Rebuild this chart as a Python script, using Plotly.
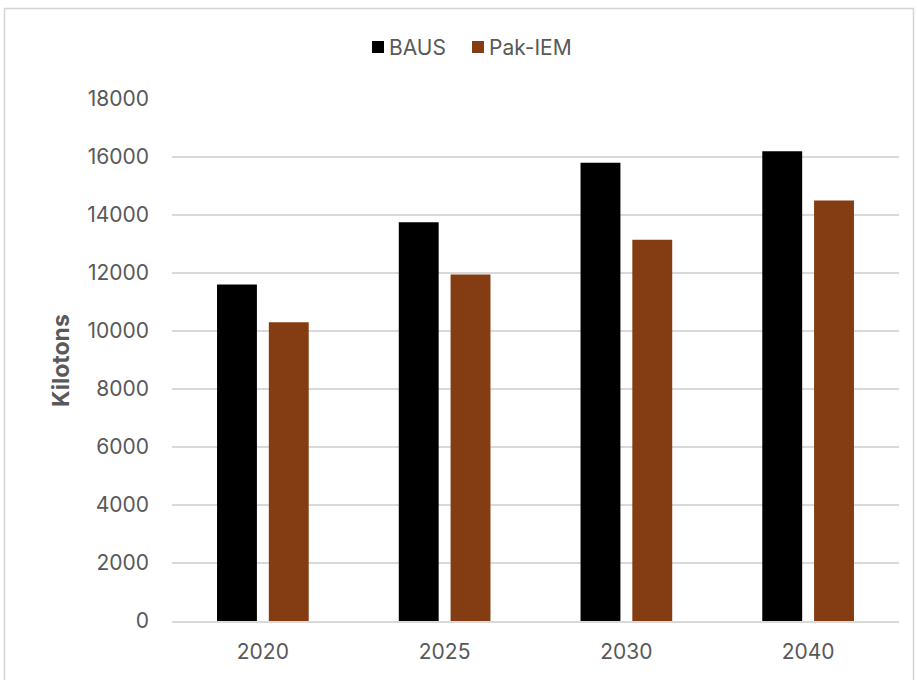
import plotly.graph_objects as go

# Emissions by year for each scenario (kilotons)
years = ["2020", "2025", "2030", "2040"]
baus = [11600, 13750, 15800, 16200]
pak_iem = [10300, 11950, 13150, 14500]
y_ticks = [0, 2000, 4000, 6000, 8000, 10000, 12000, 14000, 16000, 18000]

series_names = ["BAUS", "Pak-IEM"]
series_colors = ["#000000", "#843C12"]

W, H = 917, 680
ML, MR, MT, MB = 172, 18, 99, 59
PW, PH = W - ML - MR, H - MT - MB

FONT = "Inter, Roboto, 'Open Sans', sans-serif"
TXT = "#595959"
GRID = "#d9d9d9"


def px_x(x):
    return (x - ML) / PW


def px_y(y):
    return (H - y - MB) / PH


fig = go.Figure()
for name, vals, col in zip(series_names, [baus, pak_iem], series_colors):
    fig.add_trace(go.Bar(name=name, x=years, y=vals,
                         marker=dict(color=col, line=dict(width=0))))

# Legend drawn as swatches + labels above the plot
legend_items = [(372, 390), (472, 490)]
shapes = []
annotations = []
for (sx, tx), name, col in zip(legend_items, series_names, series_colors):
    shapes.append(dict(type="rect", xref="paper", yref="paper",
                       x0=px_x(sx), x1=px_x(sx + 12), y0=px_y(53), y1=px_y(41),
                       fillcolor=col, line=dict(width=0)))
    annotations.append(dict(text=name, showarrow=False, xref="paper", yref="paper",
                            x=px_x(tx - 3), y=px_y(47), xanchor="left", yanchor="middle",
                            font=dict(size=21, color=TXT, family=FONT)))

annotations.append(dict(
    text="<b>Kilotons</b>", textangle=-90, showarrow=False,
    xref="paper", yref="paper",
    x=px_x(61), y=px_y(361), xanchor="center", yanchor="middle",
    font=dict(size=23, color=TXT, family=FONT),
))

# Light outer frame around the chart
shapes.append(dict(
    type="rect", xref="paper", yref="paper",
    x0=px_x(4.5), x1=px_x(913.5), y0=px_y(700), y1=px_y(8.5),
    line=dict(color="#d4d4d4", width=1.5), fillcolor="rgba(0,0,0,0)", layer="below",
))

fig.update_layout(
    width=W, height=H,
    margin=dict(l=ML, r=MR, t=MT, b=MB),
    paper_bgcolor="white", plot_bgcolor="white",
    barmode="group", bargap=0.43, bargroupgap=0.23,
    font=dict(family=FONT, size=21, color=TXT),
    showlegend=False,
    xaxis=dict(
        showgrid=False, showline=True, linecolor=GRID, linewidth=1.5,
        ticks="", tickfont=dict(size=21, color=TXT), ticklabelstandoff=11,
    ),
    yaxis=dict(
        range=[0, 18000], tickvals=y_ticks, tickformat="d",
        showgrid=True, gridcolor=GRID, gridwidth=1.5,
        zeroline=False, showline=False, ticks="",
        tickfont=dict(size=21, color=TXT), ticklabelstandoff=22,
    ),
    annotations=annotations,
    shapes=shapes,
)

fig.write_html("out.html")
